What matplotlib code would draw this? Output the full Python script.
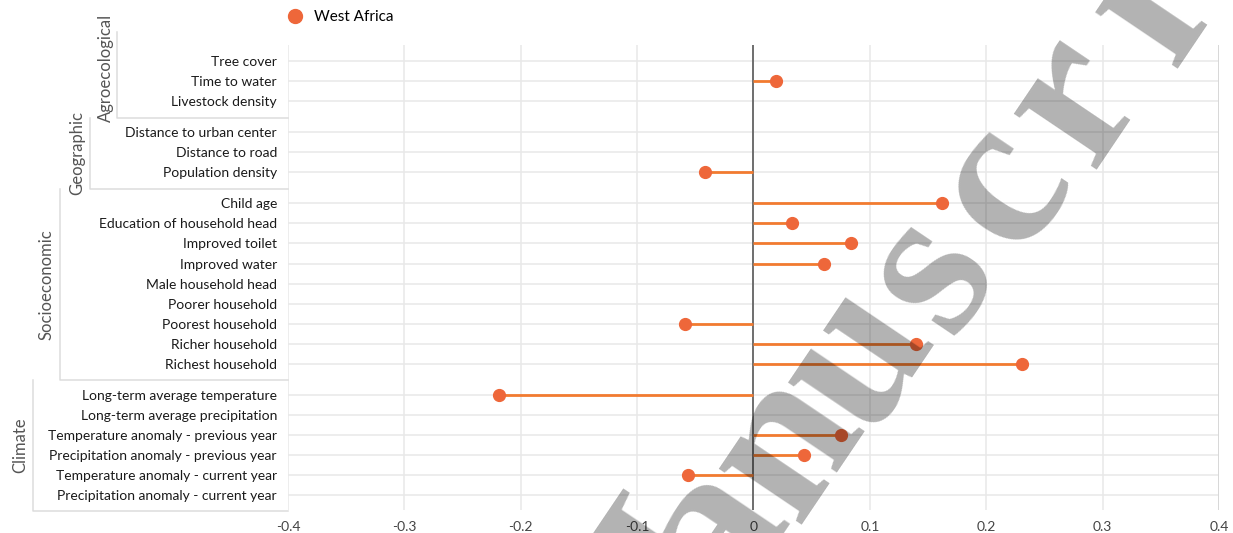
import matplotlib.pyplot as plt
import matplotlib.transforms as mtransforms
import numpy as np

plt.rcParams['font.family'] = ['Lato', 'DejaVu Sans']

# Data
groups = ['Agroecological', 'Geographic', 'Socioeconomic', 'Climate']
variables = [
    ['Tree cover', 'Time to water', 'Livestock density'],
    ['Distance to urban center', 'Distance to road', 'Population density'],
    ['Child age', 'Education of household head', 'Improved toilet', 'Improved water',
     'Male household head', 'Poorer household', 'Poorest household',
     'Richer household', 'Richest household'],
    ['Long-term average temperature', 'Long-term average precipitation',
     'Temperature anomaly - previous year', 'Precipitation anomaly - previous year',
     'Temperature anomaly - current year', 'Precipitation anomaly - current year'],
]
# coefficients for West Africa (nan = not shown)
coefs = [
    [np.nan, 0.019, np.nan],
    [np.nan, np.nan, -0.042],
    [0.162, 0.033, 0.084, 0.061, np.nan, np.nan, -0.059, 0.140, 0.231],
    [-0.219, np.nan, 0.075, 0.043, -0.056, np.nan],
]
xticks = [-0.4, -0.3, -0.2, -0.1, 0, 0.1, 0.2, 0.3, 0.4]
xticklabels = ['-0.4', '-0.3', '-0.2', '-0.1', '0', '0.1', '0.2', '0.3', '0.4']

dot_color = '#ee673a'
line_color = '#f27b30'
grid_color = '#e8e8e8'
bracket_color = '#dcdcdc'

W, H = 1233, 533
fig = plt.figure(figsize=(W / 100, H / 100), dpi=100)
ax = fig.add_axes([0.2336, 0.043, 0.7550, 0.8726])

# row positions with a gap between groups
gap = 1.55
ypos, labels, vals, group_spans = [], [], [], []
y = 0.0
for g, (names, cs) in enumerate(zip(variables, coefs)):
    start = y
    for n, c in zip(names, cs):
        ypos.append(y)
        labels.append(n)
        vals.append(c)
        y += 1
    group_spans.append((start, y - 1))
    y += gap - 1
ypos = np.array(ypos)
vals = np.array(vals)

# horizontal row lines and vertical grid
for yy in ypos:
    ax.axhline(yy, color=grid_color, lw=1.1, zorder=0)
for xx in xticks:
    ax.axvline(xx, color=grid_color, lw=1.1, zorder=0)
ax.axvline(0.4, color='#d4d4d4', lw=1.2, zorder=0)
ax.axvline(0, color='#6e6e6e', lw=1.4, zorder=1)

# lollipops
mask = ~np.isnan(vals)
ax.hlines(ypos[mask], 0, vals[mask], color=line_color, lw=2, zorder=2)
ax.plot(vals[mask], ypos[mask], 'o', color=dot_color, ms=8.5, zorder=3)

ax.set_xlim(-0.4, 0.4)
ax.set_ylim(22.4, -0.8)
ax.set_xticks(xticks)
ax.set_xticklabels(xticklabels, fontsize=10, color='#444444')
ax.set_yticks(ypos)
ax.set_yticklabels(labels, fontsize=10, color='#1a1a1a')
ax.tick_params(length=0, axis='x', pad=8)
ax.tick_params(length=0, axis='y', pad=8)
for s in ax.spines.values():
    s.set_visible(False)

# group brackets on the left
trans = mtransforms.blended_transform_factory(fig.transFigure, ax.transData)
bracket_x = [117, 90, 60, 33]
label_x = [106, 77, 46, 20]
tops = [-1.45]
bottoms = []
for i, (a, b) in enumerate(group_spans):
    if i + 1 < len(group_spans):
        bottoms.append((b + group_spans[i + 1][0]) / 2 + 0.05)
    else:
        bottoms.append(b + 0.78)
    if i > 0:
        tops.append(bottoms[i - 1])
left_edge = 288 / W
for i, grp in enumerate(groups):
    bx = bracket_x[i] / W
    ax.plot([bx, bx, left_edge], [tops[i], bottoms[i], bottoms[i]],
            color=bracket_color, lw=1.1, transform=trans, clip_on=False)
    ymid = (tops[i] + bottoms[i]) / 2
    if i == 0:
        ymid -= 0.35
    ax.text(label_x[i] / W, ymid, grp, rotation=90, ha='center', va='center',
            fontsize=12, color='#555555', transform=trans)

# legend
fig.legend(handles=[plt.Line2D([], [], marker='o', ls='', color=dot_color, ms=10)],
           labels=['West Africa'], loc='center left', bbox_to_anchor=(274 / W, 1 - 17 / H),
           frameon=False, fontsize=11, handletextpad=0.2, borderaxespad=0)

# watermark, one letter at a time along a diagonal (pixel positions)
wm_text = 'Manuscript'
wm_ref, wm_ref_idx = (861, 360), 3
wm_step = (72, -86)
wm_rot = 56
wm_half_x = 50
up = np.array([-np.sin(np.radians(wm_rot)), -np.cos(np.radians(wm_rot))])
for k, ch in enumerate(wm_text):
    cx = wm_ref[0] + (k - wm_ref_idx) * wm_step[0] - wm_half_x * up[0]
    cy = wm_ref[1] + (k - wm_ref_idx) * wm_step[1] - wm_half_x * up[1]
    fig.text(cx / W, 1 - cy / H, ch, rotation=wm_rot, rotation_mode='anchor',
             ha='center', va='baseline', fontsize=158, family='Liberation Serif',
             weight='bold', color='black', alpha=0.3, zorder=10)

fig.savefig('out.png', dpi=100)
